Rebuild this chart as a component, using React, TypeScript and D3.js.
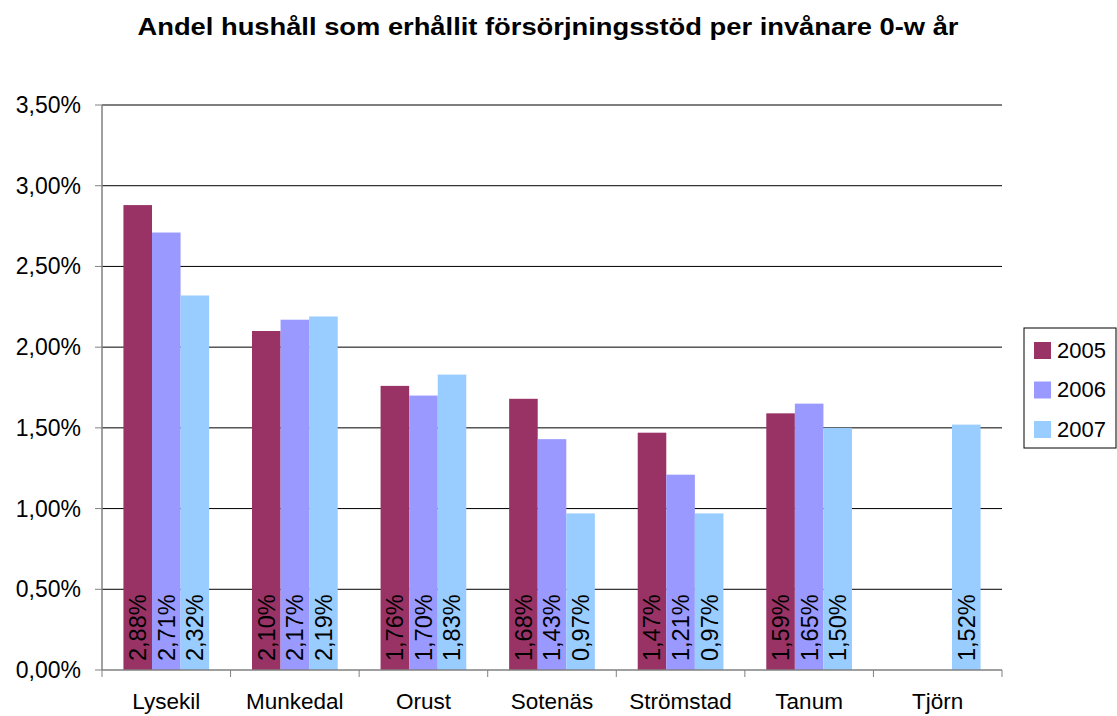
import React from 'react';
import * as d3 from 'd3';

const categories = ['Lysekil', 'Munkedal', 'Orust', 'Sotenäs', 'Strömstad', 'Tanum', 'Tjörn'];
const years = ['2005', '2006', '2007'];
const values2005 = [2.88, 2.10, 1.76, 1.68, 1.47, 1.59, null];
const values2006 = [2.71, 2.17, 1.70, 1.43, 1.21, 1.65, null];
const values2007 = [2.32, 2.19, 1.83, 0.97, 0.97, 1.50, 1.52];
const yTicks = [0, 0.5, 1, 1.5, 2, 2.5, 3, 3.5];

const colors = ['#993366', '#9999FF', '#99CCFF'];
const font = 'Arial, "Liberation Sans", sans-serif';

const fmt = (v: number) => v.toFixed(2).replace('.', ',') + '%';

const App = () => {
  const width = 1117;
  const height = 716;
  const left = 102;
  const right = 1002;
  const top = 105;
  const bottom = 670;

  const series = [values2005, values2006, values2007];

  const x = d3.scaleBand<string>().domain(categories).range([left, right]);
  const y = d3.scaleLinear().domain([0, 3.5]).range([bottom, top]);
  const barW = x.bandwidth() / 4.5;
  const inner = d3.scaleBand<string>()
    .domain(years)
    .range([barW * 0.75, barW * 3.75]);

  return (
    <svg width={width} height={height} style={{ position: 'absolute', left: 0, top: 0, background: '#fff' }}>
      <text x={548} y={35} textAnchor="middle" fontFamily={font} fontWeight="bold" fontSize={23}
        textLength={821} lengthAdjust="spacingAndGlyphs">
        Andel hushåll som erhållit försörjningsstöd per invånare 0-w år
      </text>

      {/* gridlines */}
      {yTicks.filter(t => t > 0).map(t => (
        <line key={t} x1={left} x2={right} y1={y(t)} y2={y(t)} stroke="#000" strokeWidth={1} />
      ))}

      {/* y axis */}
      <line x1={left} x2={left} y1={top} y2={bottom} stroke="#808080" strokeWidth={1.5} />
      {yTicks.map(t => (
        <g key={t}>
          <line x1={left - 7} x2={left} y1={y(t)} y2={y(t)} stroke="#808080" strokeWidth={1} />
          <text x={81} y={y(t)} dy="0.35em" textAnchor="end" fontFamily={font} fontSize={23}>
            {fmt(t)}
          </text>
        </g>
      ))}

      {/* bars */}
      {categories.map((c, i) => (
        <g key={c}>
          {series.map((s, j) => {
            const v = s[i];
            if (v == null) return null;
            const bx = (x(c) as number) + (inner(years[j]) as number);
            return (
              <g key={j}>
                <rect x={bx} y={y(v)} width={inner.bandwidth()} height={bottom - y(v)} fill={colors[j]} />
                <text transform={`translate(${bx + inner.bandwidth() / 2},${bottom - 9}) rotate(-90)`}
                  dy="0.36em" fontFamily={font} fontSize={23.5}>
                  {fmt(v)}
                </text>
              </g>
            );
          })}
        </g>
      ))}

      {/* x axis */}
      <line x1={left} x2={right} y1={bottom} y2={bottom} stroke="#808080" strokeWidth={1.5} />
      {categories.map(c => (
        <line key={c} x1={x(c) as number} x2={x(c) as number} y1={bottom} y2={bottom + 7} stroke="#808080" />
      ))}
      <line x1={right} x2={right} y1={bottom} y2={bottom + 7} stroke="#808080" />
      {categories.map(c => (
        <text key={c} x={(x(c) as number) + x.bandwidth() / 2} y={709} textAnchor="middle"
          fontFamily={font} fontSize={22.5}>
          {c}
        </text>
      ))}

      {/* legend */}
      <rect x={1024} y={328} width={92} height={120} fill="#fff" stroke="#000" strokeWidth={1} />
      {years.map((yr, j) => {
        const cy = 350 + j * 39.5;
        return (
          <g key={yr}>
            <rect x={1034} y={cy - 8} width={17} height={17} fill={colors[j]} />
            <text x={1057} y={cy} dy="0.36em" fontFamily={font} fontSize={22}>{yr}</text>
          </g>
        );
      })}
    </svg>
  );
};

export default App;
